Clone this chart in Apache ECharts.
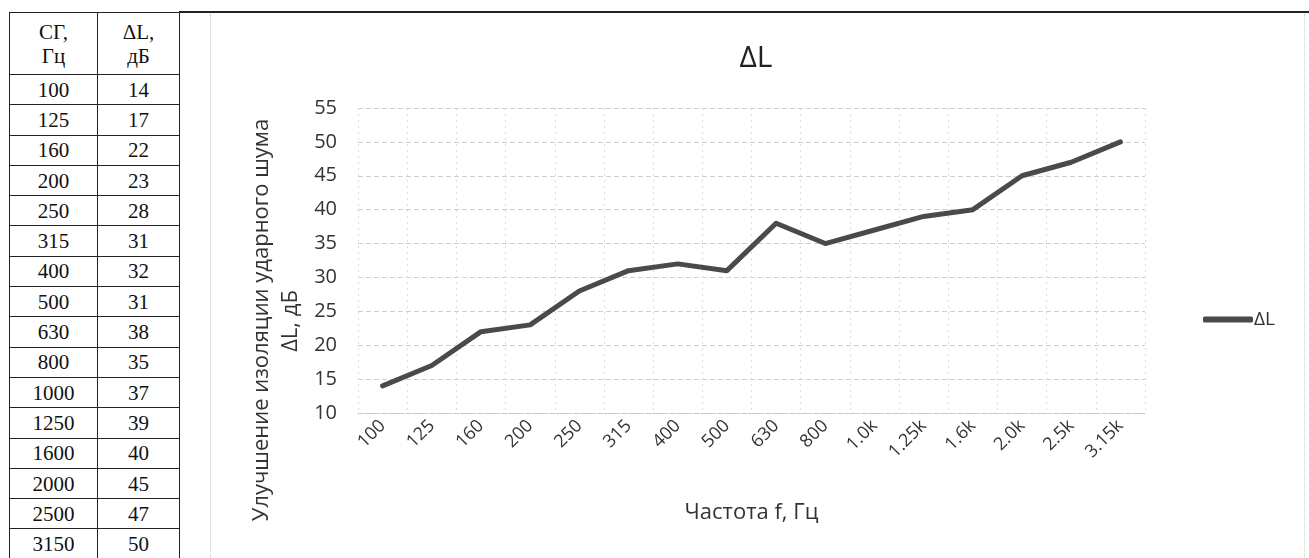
<!DOCTYPE html>
<html>
<head>
<meta charset="utf-8">
<script src="https://cdn.jsdelivr.net/npm/echarts@6/dist/echarts.min.js"></script>
<style>
  html, body { margin: 0; padding: 0; background: #fff; }
  #wrap { position: relative; width: 1309px; height: 558px; overflow: hidden; background: #fff; }
  #chart { position: absolute; left: 0; top: 0; width: 1309px; height: 558px; }
  #tbl { position: absolute; left: 9px; top: 12px; border-collapse: collapse; table-layout: fixed;
         font-family: "Liberation Serif", "DejaVu Serif", serif; font-size: 21px; color: #111; }
  #tbl td { border: 1.5px solid #222; text-align: center; padding: 0; height: 29.3px; line-height: 28px; overflow: hidden; }
  #tbl td.c1 { width: 87px; }
  #tbl td.c2 { width: 81px; }
  #tbl tr.hd td { height: 61px; line-height: 24px; }
  #topline { position: absolute; left: 179px; top: 11px; width: 1130px; height: 2px; background: #222; }
  #lborder { position: absolute; left: 210px; top: 14px; width: 0; height: 544px; border-left: 1px dotted #c8c8c8; }
  #rborder { position: absolute; left: 1304px; top: 14px; width: 0; height: 544px; border-left: 1px dotted #d0d0d0; }
</style>
</head>
<body>
<div id="wrap">
  <div id="topline"></div>
  <div id="lborder"></div>
  <div id="rborder"></div>
  <table id="tbl"></table>
  <div id="chart"></div>
</div>
<script>
// ---- data ----
var tableFreqHz = [100, 125, 160, 200, 250, 315, 400, 500, 630, 800, 1000, 1250, 1600, 2000, 2500, 3150];
var categories = ['100', '125', '160', '200', '250', '315', '400', '500', '630', '800', '1.0k', '1.25k', '1.6k', '2.0k', '2.5k', '3.15k'];
var deltaL = [14, 17, 22, 23, 28, 31, 32, 31, 38, 35, 37, 39, 40, 45, 47, 50];
var yTicks = { min: 10, max: 55, interval: 5 };
var tableHeader = [['СГ,', 'Гц'], ['ΔL,', 'дБ']];
var chartTitle = 'ΔL';
var seriesName = 'ΔL';
var xAxisTitle = 'Частота f, Гц';
var yAxisTitle1 = 'Улучшение изоляции ударного шума';
var yAxisTitle2 = 'ΔL, дБ';

// ---- table ----
var tbl = document.getElementById('tbl');
var hd = document.createElement('tr'); hd.className = 'hd';
tableHeader.forEach(function (h, i) {
  var td = document.createElement('td'); td.className = i === 0 ? 'c1' : 'c2';
  td.innerHTML = h[0] + '<br>' + h[1]; hd.appendChild(td);
});
tbl.appendChild(hd);
tableFreqHz.forEach(function (f, i) {
  var tr = document.createElement('tr');
  var a = document.createElement('td'); a.className = 'c1'; a.textContent = String(f);
  var b = document.createElement('td'); b.className = 'c2'; b.textContent = String(deltaL[i]);
  tr.appendChild(a); tr.appendChild(b); tbl.appendChild(tr);
});

// ---- chart ----
var FONT = '"Open Sans", "Noto Sans", sans-serif';
var chart = echarts.init(document.getElementById('chart'), null, { renderer: 'canvas' });
chart.setOption({
  backgroundColor: 'transparent',
  animation: false,
  title: {
    text: chartTitle, left: 751, top: 38, textAlign: 'center',
    textStyle: { fontFamily: FONT, fontSize: 30, fontWeight: 'normal', color: '#222' }
  },
  legend: {
    data: [seriesName], left: 1198, top: 305, icon: 'roundRect',
    itemWidth: 50, itemHeight: 6, itemGap: 4,
    textStyle: { fontFamily: FONT, fontSize: 19, color: '#333', padding: [0, 0, 0, -4] }
  },
  grid: { left: 358, right: 164, top: 108, bottom: 145 },
  xAxis: {
    type: 'category', data: categories, boundaryGap: true,
    name: xAxisTitle, nameLocation: 'middle', nameGap: 89,
    nameTextStyle: { fontFamily: FONT, fontSize: 22, color: '#333' },
    axisLine: { show: true, lineStyle: { color: '#c8c8c8', width: 1, type: [4, 2] } },
    axisTick: { show: false },
    axisLabel: { rotate: 45, fontFamily: FONT, fontSize: 18, color: '#333', margin: 10, interval: 0 },
    splitLine: { show: true, lineStyle: { color: '#dcdcdc', width: 1, type: [2, 4] } }
  },
  yAxis: {
    type: 'value', min: yTicks.min, max: yTicks.max, interval: yTicks.interval,
    axisLine: { show: false }, axisTick: { show: false },
    axisLabel: { fontFamily: FONT, fontSize: 20, color: '#333', margin: 21 },
    splitLine: { show: true, lineStyle: { color: '#cfcfcf', width: 1, type: [5, 3] } }
  },
  graphic: [
    { type: 'text', x: 262, y: 320, rotation: Math.PI / 2,
      style: { text: yAxisTitle1, font: '22px ' + FONT, fill: '#333', align: 'center', verticalAlign: 'middle' } },
    { type: 'text', x: 291, y: 321, rotation: Math.PI / 2,
      style: { text: yAxisTitle2, font: '22px ' + FONT, fill: '#333', align: 'center', verticalAlign: 'middle' } }
  ],
  series: [{
    name: seriesName, type: 'line', data: deltaL,
    showSymbol: false, symbol: 'none',
    lineStyle: { color: '#4a4a4a', width: 5, cap: 'round', join: 'round' },
    itemStyle: { color: '#4a4a4a' }
  }]
});
</script>
</body>
</html>
